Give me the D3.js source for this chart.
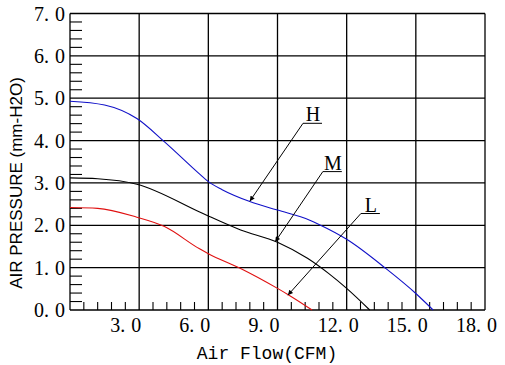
<!DOCTYPE html>
<html><head><meta charset="utf-8">
<script src="https://cdn.jsdelivr.net/npm/d3@7"></script>
<style>body{margin:0;background:#fff}svg{display:block}</style>
</head><body>
<script>
// ---- data ----
const xTicks = [3, 6, 9, 12, 15, 18];
const xTickLabels = ["3.0", "6.0", "9.0", "12.0", "15.0", "18.0"];
const yTicks = [0, 1, 2, 3, 4, 5, 6, 7];
const yTickLabels = ["0.0", "1.0", "2.0", "3.0", "4.0", "5.0", "6.0", "7.0"];
const hX = [0, 1.5, 2.9, 4.1, 5.6, 6.0, 6.6, 7.8, 9.0, 10.4, 10.8, 12.0, 13.7, 15.0, 15.75];
const hY = [4.93, 4.84, 4.52, 3.97, 3.22, 3.03, 2.84, 2.56, 2.36, 2.12, 2.02, 1.67, 0.98, 0.39, 0];
const mX = [0, 1.2, 2.9, 5.6, 6.0, 7.4, 9.0, 10.3, 11.2, 12.0, 13.0];
const mY = [3.12, 3.1, 2.97, 2.32, 2.22, 1.89, 1.6, 1.22, 0.87, 0.51, 0];
const lX = [0, 1.2, 2.9, 4.1, 5.6, 6.0, 7.4, 9.0, 9.5, 10.5];
const lY = [2.42, 2.4, 2.19, 1.97, 1.45, 1.33, 0.98, 0.51, 0.35, 0];
const annLabels = ["H", "M", "L"];
const annX = [10.54, 11.4, 13.05];
const annY = [4.62, 3.48, 2.49];
const tipX = [7.8, 8.9, 9.45];
const tipY = [2.57, 1.61, 0.35];

const W = 505, H = 365;
const svg = d3.select("body").append("svg").attr("width", W).attr("height", H);
const x = d3.scaleLinear().domain([0, 18]).range([70, 485]);
const y = d3.scaleLinear().domain([0, 7]).range([310, 13.5]);

// grid
const g = svg.append("g").attr("stroke", "#000").attr("stroke-width", 1.3);
g.selectAll("line.gx").data(xTicks).join("line")
  .attr("x1", d => x(d)).attr("x2", d => x(d)).attr("y1", y(0)).attr("y2", y(7));
g.selectAll("line.gy").data(yTicks).join("line")
  .attr("y1", d => y(d)).attr("y2", d => y(d)).attr("x1", x(0)).attr("x2", x(18));
g.append("line").attr("x1", x(0)).attr("x2", x(0)).attr("y1", y(0)).attr("y2", y(7));

// minor ticks
const yMinor = d3.range(0, 35).map(i => i * 0.2).filter((d, i) => i % 5 !== 0);
const xMinor = d3.range(0, 30).map(i => i * 0.6).filter((d, i) => i % 5 !== 0);
const mt = svg.append("g").attr("stroke", "#000").attr("stroke-width", 1.1);
mt.selectAll("line.my").data(yMinor).join("line")
  .attr("x1", x(0)).attr("x2", x(0) + 12).attr("y1", d => y(d)).attr("y2", d => y(d));
mt.selectAll("line.mx").data(xMinor).join("line")
  .attr("y1", y(0)).attr("y2", y(0) - 8).attr("x1", d => x(d)).attr("x2", d => x(d));

// tick labels: wide gap after the decimal point, as in the reference
function spaced(sel, labels) {
  sel.each(function (d, i) {
    const parts = labels[i].split(".");
    const t = d3.select(this);
    t.append("tspan").text(parts[0] + ".");
    t.append("tspan").attr("dx", 6).text(parts[1]);
  });
}
svg.append("g").selectAll("text").data(yTicks).join("text")
  .attr("x", x(0) - 5).attr("y", d => y(d)).attr("dy", "0.35em")
  .attr("text-anchor", "end")
  .attr("font-family", "Liberation Serif, serif").attr("font-size", 20)
  .call(spaced, yTickLabels);
svg.append("g").selectAll("text").data(xTicks).join("text")
  .attr("x", d => x(d) - 29).attr("y", 332)
  .attr("text-anchor", "start")
  .attr("font-family", "Liberation Serif, serif").attr("font-size", 20)
  .call(spaced, xTickLabels);

// axis titles
svg.append("text").attr("x", 267).attr("y", 359).attr("text-anchor", "middle")
  .attr("font-family", "Liberation Mono, monospace").attr("font-size", 18)
  .text("Air Flow(CFM)");
svg.append("text").attr("transform", "translate(22,183) rotate(-90)")
  .attr("text-anchor", "middle")
  .attr("font-family", "Liberation Sans, Arial, sans-serif").attr("font-size", 17)
  .text("AIR PRESSURE (mm-H2O)");

// curves
const line = d3.line().x(d => x(d[0])).y(d => y(d[1])).curve(d3.curveMonotoneX);
const series = [
  { xs: hX, ys: hY, color: "#1010c8" },
  { xs: mX, ys: mY, color: "#000" },
  { xs: lX, ys: lY, color: "#e01010" }
];
svg.append("g").selectAll("path").data(series).join("path")
  .attr("d", s => line(s.xs.map((v, i) => [v, s.ys[i]])))
  .attr("fill", "none").attr("stroke", s => s.color).attr("stroke-width", 1.1);

// annotations
svg.append("defs").append("marker").attr("id", "ah")
  .attr("viewBox", "0 0 10 10").attr("refX", 10).attr("refY", 5)
  .attr("markerWidth", 11).attr("markerHeight", 5).attr("markerUnits", "userSpaceOnUse")
  .attr("orient", "auto")
  .append("path").attr("d", "M0,0L10,5L0,10Z").attr("fill", "#000");
const ann = svg.append("g");
annLabels.forEach((lab, i) => {
  const lx = x(annX[i]), ly = y(annY[i]);
  ann.append("text").attr("x", lx).attr("y", ly + 7).attr("text-anchor", "middle")
    .attr("font-family", "Liberation Serif, serif").attr("font-size", 20).text(lab);
  ann.append("line").attr("x1", lx - 10).attr("x2", lx + 9).attr("y1", ly + 9).attr("y2", ly + 9)
    .attr("stroke", "#000").attr("stroke-width", 1);
  ann.append("line").attr("x1", lx - 10).attr("y1", ly + 9)
    .attr("x2", x(tipX[i])).attr("y2", y(tipY[i]))
    .attr("stroke", "#000").attr("stroke-width", 1).attr("marker-end", "url(#ah)");
});
</script>
</body></html>
